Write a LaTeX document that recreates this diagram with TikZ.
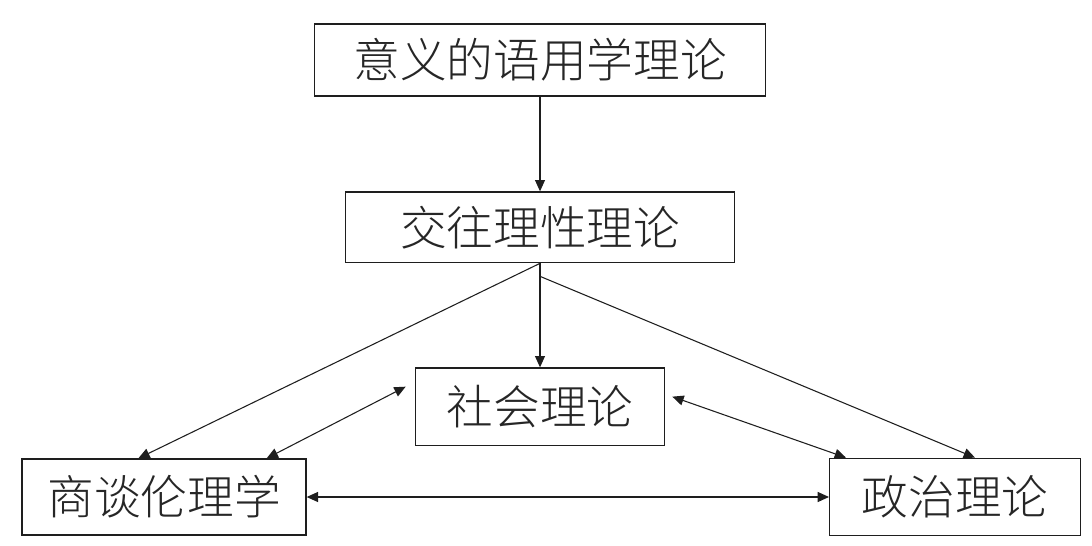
\documentclass[tikz,border=0pt]{standalone}
\usepackage{fontspec}
\newfontfamily\cjk{Noto Sans CJK SC}[UprightFont=* Light]
\usepackage{tikz}
\usetikzlibrary{arrows.meta,positioning,calc}
\definecolor{trait}{HTML}{1E1E1E}
\tikzset{
  cadre/.style={rectangle, draw=trait, line width=1pt, fill=white,
                font=\cjk\fontsize{35}{40}\selectfont, text=black!85, inner sep=0pt},
  arr/.style={-{Triangle[length=8.5pt,width=7.5pt]}, line width=0.8pt, draw=trait},
  biarr/.style={{Triangle[length=8.5pt,width=7.5pt]}-{Triangle[length=8.5pt,width=7.5pt]},
                line width=0.8pt, draw=trait},
}
\begin{document}
\begin{tikzpicture}[x=0.75pt, y=-0.75pt]
    \fill[white] (0,0) rectangle (1092,546);
    \useasboundingbox (0,0) rectangle (1092,546);
    \node[cadre, minimum width=338pt, minimum height=54pt] (yy) at (540,60) {意义的语用学理论};
    \node[cadre, minimum width=292pt, minimum height=53pt, below=71pt of yy] (jw) {交往理性理论};
    \node[cadre, minimum width=187pt, minimum height=58pt, below=78pt of jw] (sh) {社会理论};
    \node[cadre, minimum width=213pt, minimum height=57pt] (st) at (164,497) {商谈伦理学};
    \node[cadre, minimum width=188pt, minimum height=58pt] (zz) at (955,497) {政治理论};
    \coordinate (fourche) at ($(jw.south)+(0,13)$);
    \draw[arr] (yy) -- (jw);
    \draw[arr] (jw.south) -- (sh.north);
    \draw[arr] (jw.south) -- ($(st.north west)+(117,0)$);
    \draw[arr] (fourche) -- ($(zz.north west)+(146,0)$);
    \draw[biarr] ($(sh.west)+(-9,-20)$) -- ($(st.north east)+(-40,0)$);
    \draw[biarr] ($(sh.east)+(7,-10)$) -- ($(zz.north west)+(17,0)$);
    \draw[biarr] (st.east) -- (zz.west);
  \end{tikzpicture}
\end{document}
